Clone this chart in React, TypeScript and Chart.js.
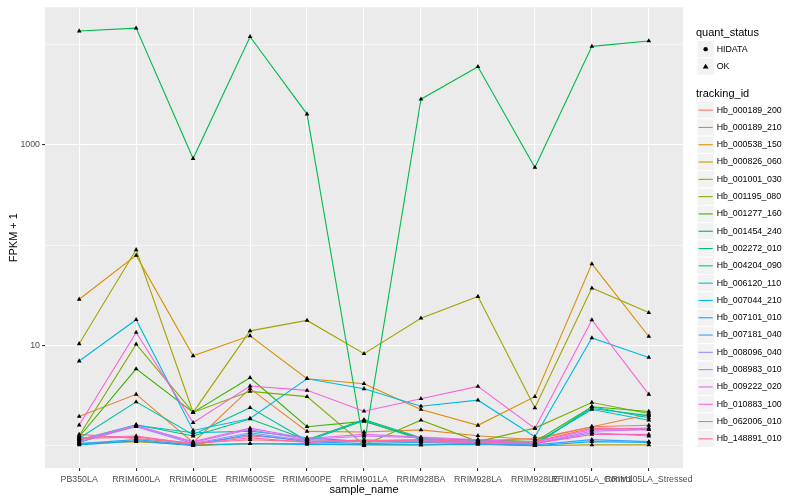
import React, { useEffect, useRef } from "react";
import { Chart, registerables } from "chart.js";

Chart.register(...registerables);

const categories = [
  "PB350LA",
  "RRIM600LA",
  "RRIM600LE",
  "RRIM600SE",
  "RRIM600PE",
  "RRIM901LA",
  "RRIM928BA",
  "RRIM928LA",
  "RRIM928LE",
  "RRIM105LA_Control",
  "RRIM105LA_Stressed",
];

const trackingIds = [
  "Hb_000189_200",
  "Hb_000189_210",
  "Hb_000538_150",
  "Hb_000826_060",
  "Hb_001001_030",
  "Hb_001195_080",
  "Hb_001277_160",
  "Hb_001454_240",
  "Hb_002272_010",
  "Hb_004204_090",
  "Hb_006120_110",
  "Hb_007044_210",
  "Hb_007101_010",
  "Hb_007181_040",
  "Hb_008096_040",
  "Hb_008983_010",
  "Hb_009222_020",
  "Hb_010883_100",
  "Hb_062006_010",
  "Hb_148891_010",
];

const seriesColors = [
  "#F8766D", "#EA8331", "#D89000", "#C09B00", "#A3A500",
  "#7CAE00", "#39B600", "#00BB4E", "#00BF7D", "#00C1A3",
  "#00BFC4", "#00BAE0", "#00B0F6", "#35A2FF", "#9590FF",
  "#C77CFF", "#E76BF3", "#FA62DB", "#FF62BC", "#FF6C90",
];

// FPKM + 1 values, one per sample_name
const hb_000189_200 = [1.3, 1.18, 1.05, 1.25, 1.15, 1.12, 1.15, 1.12, 1.18, 1.55, 1.6];
const hb_000189_210 = [1.96, 3.26, 1.08, 3.71, 1.39, 1.37, 1.44, 1.26, 1.15, 1.55, 2.05];
const hb_000538_150 = [28.9, 79.2, 7.9, 12.5, 4.66, 4.16, 2.3, 1.6, 3.09, 65.2, 12.3];
const hb_000826_060 = [1.05, 1.1, 1.02, 1.05, 1.05, 1.03, 1.02, 1.05, 1.0, 1.02, 1.02];
const hb_001001_030 = [10.4, 90.1, 2.15, 14.0, 17.8, 8.3, 18.7, 30.8, 2.39, 37.4, 21.3];
const hb_001195_080 = [1.26, 10.3, 2.15, 3.49, 3.09, 1.02, 1.8, 1.1, 1.5, 2.7, 2.1];
const hb_001277_160 = [1.23, 5.85, 2.15, 4.77, 1.55, 1.75, 1.18, 1.15, 1.1, 2.45, 2.2];
const hb_001454_240 = [13700, 14650, 733, 12030, 2036, 1.0, 2865, 6040, 597, 9640, 10900];
const hb_002272_010 = [1.15, 1.62, 1.25, 1.85, 1.15, 1.82, 1.2, 1.1, 1.05, 2.35, 2.0];
const hb_004204_090 = [1.19, 2.74, 1.29, 2.4, 1.12, 1.78, 1.15, 1.12, 1.0, 2.45, 1.9];
const hb_006120_110 = [1.08, 1.6, 1.35, 1.4, 1.2, 1.1, 1.1, 1.12, 1.05, 2.3, 1.8];
const hb_007044_210 = [7.0, 18.1, 1.42, 1.87, 4.66, 3.7, 2.48, 2.85, 1.23, 11.9, 7.6];
const hb_007101_010 = [1.02, 1.12, 1.0, 1.05, 1.03, 1.02, 1.02, 1.03, 1.0, 1.1, 1.08];
const hb_007181_040 = [1.05, 1.15, 1.02, 1.3, 1.1, 1.05, 1.08, 1.05, 1.02, 1.15, 1.1];
const hb_008096_040 = [1.1, 1.55, 1.05, 1.35, 1.12, 1.1, 1.12, 1.08, 1.05, 1.35, 1.25];
const hb_008983_010 = [1.12, 1.6, 1.08, 1.45, 1.15, 1.25, 1.2, 1.1, 1.05, 1.4, 1.45];
const hb_009222_020 = [1.15, 1.58, 1.1, 1.5, 1.18, 1.3, 1.22, 1.15, 1.08, 1.45, 1.5];
const hb_010883_100 = [1.61, 13.5, 1.7, 3.94, 3.57, 2.21, 2.95, 3.91, 1.49, 18.0, 3.26];
const hb_062006_010 = [1.2, 1.25, 1.04, 1.2, 1.08, 1.15, 1.1, 1.08, 1.05, 1.3, 1.3];
const hb_148891_010 = [1.18, 1.22, 1.06, 1.15, 1.1, 1.12, 1.15, 1.1, 1.1, 1.5, 1.45];

const seriesValues = [
  hb_000189_200, hb_000189_210, hb_000538_150, hb_000826_060, hb_001001_030,
  hb_001195_080, hb_001277_160, hb_001454_240, hb_002272_010, hb_004204_090,
  hb_006120_110, hb_007044_210, hb_007101_010, hb_007181_040, hb_008096_040,
  hb_008983_010, hb_009222_020, hb_010883_100, hb_062006_010, hb_148891_010,
];

const statusLabels = ["HIDATA", "OK"];
const yGridValues = [1, 10, 100, 1000, 10000];
const yLabelValues = [10, 1000];
const yMin = 0.619;
const yMax = 23660;

const FONT = "'Liberation Sans', Arial, Helvetica, sans-serif";

const panelBg = {
  id: "panelBg",
  beforeDraw(chart: any) {
    const { ctx, chartArea } = chart;
    ctx.save();
    ctx.fillStyle = "#EBEBEB";
    ctx.fillRect(chartArea.left, chartArea.top, chartArea.right - chartArea.left, chartArea.bottom - chartArea.top);
    ctx.restore();
  },
};

const ggLegend = {
  id: "ggLegend",
  afterDraw(chart: any) {
    const { ctx } = chart;
    const x0 = 696;
    const keyX = 697;
    const keyW = 17.3;
    const keyH = 17.3;
    const labelX = 716.7;
    ctx.save();
    ctx.textBaseline = "middle";
    ctx.textAlign = "left";
    // quant_status
    ctx.fillStyle = "#000";
    ctx.font = `11px ${FONT}`;
    ctx.fillText("quant_status", x0, 33);
    statusLabels.forEach((lab, i) => {
      const top = 40.5 + i * keyH;
      ctx.fillStyle = "#F2F2F2";
      ctx.fillRect(keyX, top, keyW, keyH);
      ctx.strokeStyle = "#FFFFFF";
      ctx.lineWidth = 1;
      ctx.strokeRect(keyX, top, keyW, keyH);
      const cx = keyX + keyW / 2;
      const cy = top + keyH / 2;
      ctx.fillStyle = "#000";
      ctx.beginPath();
      if (i === 0) {
        ctx.arc(cx, cy, 2.2, 0, Math.PI * 2);
      } else {
        ctx.moveTo(cx, cy - 2.8);
        ctx.lineTo(cx + 2.9, cy + 2.1);
        ctx.lineTo(cx - 2.9, cy + 2.1);
        ctx.closePath();
      }
      ctx.fill();
      ctx.font = `8.8px ${FONT}`;
      ctx.fillStyle = "#000";
      ctx.fillText(lab, labelX, cy);
    });
    // tracking_id
    ctx.font = `11px ${FONT}`;
    ctx.fillStyle = "#000";
    ctx.fillText("tracking_id", x0, 93.5);
    trackingIds.forEach((id, i) => {
      const top = 101.5 + i * keyH;
      ctx.fillStyle = "#F2F2F2";
      ctx.fillRect(keyX, top, keyW, keyH);
      ctx.strokeStyle = "#FFFFFF";
      ctx.lineWidth = 1;
      ctx.strokeRect(keyX, top, keyW, keyH);
      const cy = top + keyH / 2;
      ctx.strokeStyle = seriesColors[i];
      ctx.lineWidth = 1.1;
      ctx.beginPath();
      ctx.moveTo(keyX + 1.5, cy);
      ctx.lineTo(keyX + keyW - 1.5, cy);
      ctx.stroke();
      ctx.font = `8.8px ${FONT}`;
      ctx.fillStyle = "#000";
      ctx.fillText(id, labelX, cy);
    });
    ctx.restore();
  },
};

export default function App() {
  const canvasRef = useRef<HTMLCanvasElement | null>(null);

  useEffect(() => {
    if (!canvasRef.current) return;
    const lineSets = trackingIds.map((id, s) => ({
      type: "line" as const,
      label: id,
      data: seriesValues[s].map((v, i) => ({ x: i, y: v })),
      borderColor: seriesColors[s],
      backgroundColor: seriesColors[s],
      borderWidth: 1.1,
      pointRadius: 0,
      fill: false,
      tension: 0,
      order: 100 - s,
    }));
    const pointSets = trackingIds.map((id, s) => ({
      type: "scatter" as const,
      label: id + " points",
      data: seriesValues[s].map((v, i) => ({ x: i, y: v })),
      showLine: false,
      pointStyle: "triangle",
      pointRadius: 2.7,
      backgroundColor: "#000000",
      borderColor: "#000000",
      borderWidth: 0,
      order: 0,
    }));

    const chart = new Chart(canvasRef.current, {
      type: "line",
      data: { datasets: [...lineSets, ...pointSets] as any },
      plugins: [panelBg, ggLegend],
      options: {
        animation: false,
        responsive: false,
        maintainAspectRatio: false,
        layout: { padding: { left: 0, top: 5, right: 117, bottom: 0 } },
        plugins: { legend: { display: false }, tooltip: { enabled: false }, title: { display: false } },
        scales: {
          x: {
            type: "linear",
            min: -0.6,
            max: 10.6,
            afterBuildTicks: (scale: any) => {
              scale.ticks = categories.map((_, i) => ({ value: i }));
            },
            afterFit: (scale: any) => {
              scale.height = 32;
            },
            border: { display: false },
            grid: {
              color: "#FFFFFF",
              lineWidth: 1.1,
              drawTicks: true,
              tickLength: 3,
              tickColor: "#333333",
            },
            ticks: {
              autoSkip: false,
              maxRotation: 0,
              minRotation: 0,
              padding: 3,
              color: "#4D4D4D",
              font: { family: FONT, size: 8.8 },
              callback: (v: any) => categories[v as number] ?? "",
            },
            title: {
              display: true,
              text: "sample_name",
              color: "#000",
              font: { family: FONT, size: 11 },
              padding: { top: 0, bottom: 3.5 },
            },
          },
          y: {
            type: "logarithmic",
            min: yMin,
            max: yMax,
            afterBuildTicks: (scale: any) => {
              scale.ticks = yGridValues.map((v) => ({ value: v, major: yLabelValues.includes(v) }));
            },
            afterFit: (scale: any) => {
              scale.width = 45;
            },
            border: { display: false },
            grid: {
              color: "#FFFFFF",
              lineWidth: (c: any) => (yLabelValues.includes(c.tick?.value) ? 1.1 : 0.55),
              drawTicks: true,
              tickLength: 3,
              tickColor: (c: any) => (yLabelValues.includes(c.tick?.value) ? "#333333" : "rgba(0,0,0,0)"),
            },
            ticks: {
              autoSkip: false,
              padding: 2,
              color: "#4D4D4D",
              font: { family: FONT, size: 8.8 },
              callback: (v: any) => (yLabelValues.includes(v as number) ? String(v) : ""),
            },
            title: {
              display: true,
              text: "FPKM + 1",
              color: "#000",
              font: { family: FONT, size: 11 },
              padding: { top: 7, bottom: 0 },
            },
          },
        },
      } as any,
    });
    return () => chart.destroy();
  }, []);

  return (
    <div style={{ position: "fixed", left: 0, top: 0, width: 800, height: 500, background: "#FFFFFF" }}>
      <canvas ref={canvasRef} width={800} height={500} style={{ width: 800, height: 500, display: "block" }} />
    </div>
  );
}
